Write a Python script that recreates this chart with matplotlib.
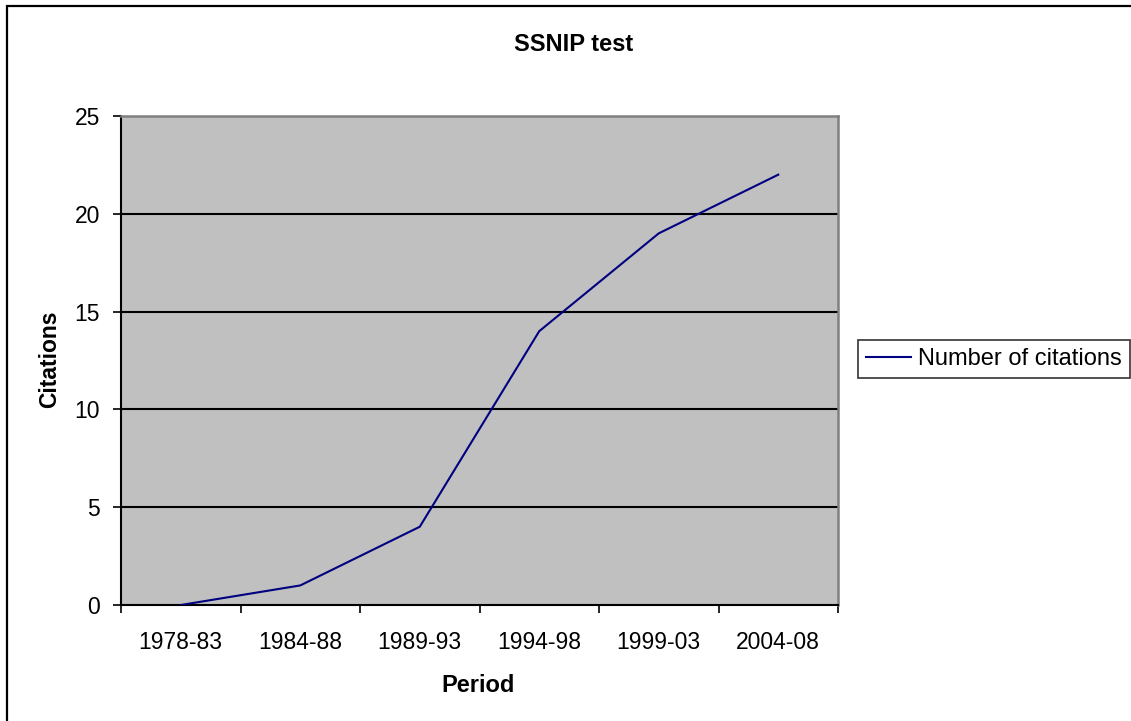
import matplotlib.pyplot as plt
from matplotlib.patches import Rectangle

plt.rcParams['font.family'] = ['Liberation Sans', 'DejaVu Sans']

# data
periods = ['1978-83', '1984-88', '1989-93', '1994-98', '1999-03', '2004-08']
citations = [0, 1, 4, 14, 19, 22]

W, H = 1131, 721
fig = plt.figure(figsize=(W / 100, H / 100), dpi=100)

# outer chart border (right and bottom edges fall outside the image)
fig.patches.append(Rectangle((7 / W, -10 / H), 1140 / W, (721 - 6 + 10) / H, transform=fig.transFigure,
                             fill=False, edgecolor='black', linewidth=1.6))

ax = fig.add_axes([121 / W, 1 - 605 / H, (838 - 121) / W, (605 - 116) / H])
ax.set_facecolor('#C0C0C0')

x = list(range(len(periods)))
ax.plot(x, citations, color='#000080', linewidth=1.5, label='Number of citations', zorder=3)

ax.set_xlim(-0.5, len(periods) - 0.5)
ax.set_ylim(0, 25)
ax.set_yticks([0, 5, 10, 15, 20, 25])
ax.tick_params(axis='y', labelsize=16.5, length=6, width=1.2, pad=9)
for yv in [5, 10, 15, 20]:
    ax.axhline(yv, color='black', linewidth=1.5, zorder=1)

# ticks between categories, labels at centers
ax.set_xticks([i - 0.5 for i in range(len(periods) + 1)])
ax.set_xticklabels([])
ax.set_xticks(x, minor=True)
ax.set_xticklabels(periods, minor=True)
ax.tick_params(axis='x', which='major', length=6, width=1.2)
ax.tick_params(axis='x', which='minor', length=0, labelsize=16.5, pad=19)

for s in ['top', 'right']:
    ax.spines[s].set_color('#808080')
    ax.spines[s].set_linewidth(1.8)
for s in ['left', 'bottom']:
    ax.spines[s].set_color('black')
    ax.spines[s].set_linewidth(1.5)

fig.text(574 / W, 1 - 51 / H, 'SSNIP test', fontsize=17, fontweight='bold', ha='center', va='baseline')
fig.text(478 / W, 1 - 692 / H, 'Period', fontsize=17, fontweight='bold', ha='center', va='baseline')
fig.text(50 / W, 1 - 359 / H, 'Citations', fontsize=16.5, fontweight='bold', ha='center', va='center',
         rotation=90)

leg = ax.legend(loc='center left', bbox_to_anchor=(858 / W, 1 - 359 / H), bbox_transform=fig.transFigure,
                fancybox=False, edgecolor='black', fontsize=17, handlelength=1.9, borderpad=0.35,
                handletextpad=0.3, borderaxespad=0)
leg.get_frame().set_linewidth(1.2)

fig.savefig('out.png', dpi=100)
